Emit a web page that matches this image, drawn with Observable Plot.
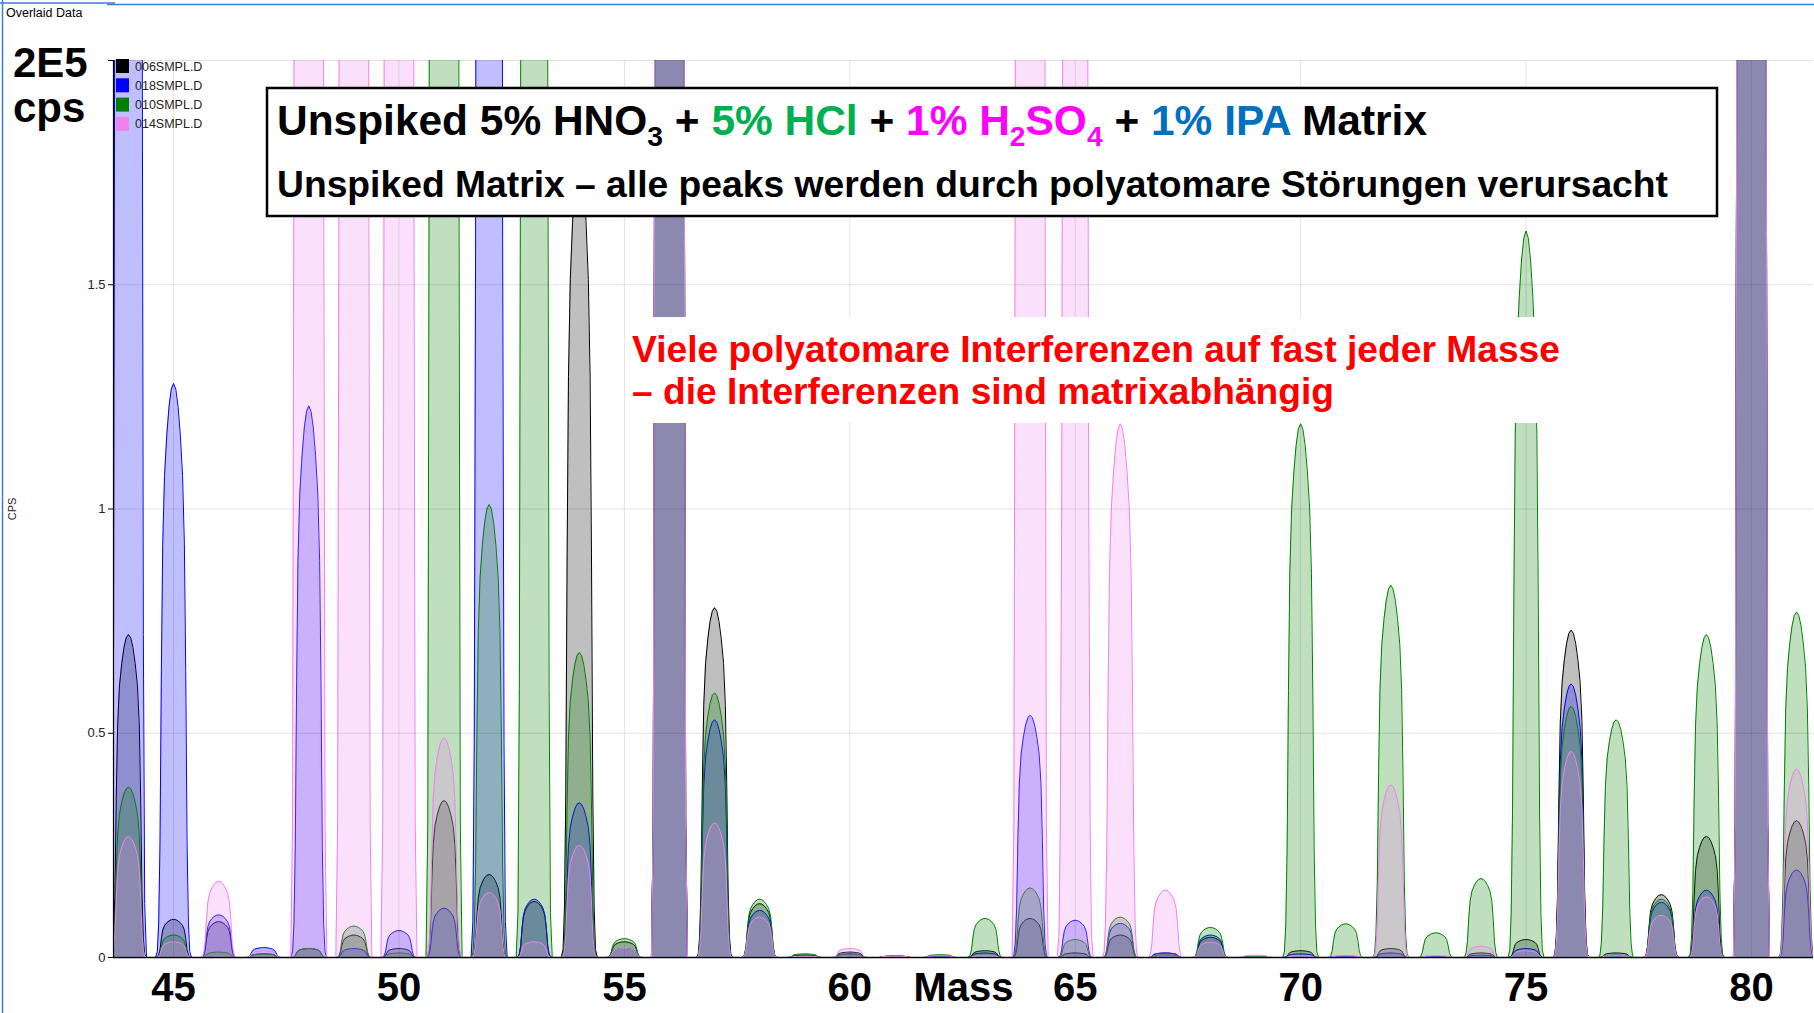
<!DOCTYPE html>
<html>
<head>
<meta charset="utf-8">
<script src="https://cdn.jsdelivr.net/npm/d3@7"></script>
<script src="https://cdn.jsdelivr.net/npm/@observablehq/plot@0.6"></script>
<style>
  html, body { margin: 0; padding: 0; background: #fff; }
  #page { position: relative; width: 1814px; height: 1013px; overflow: hidden; background: #fff;
          font-family: "Liberation Sans", Arial, sans-serif; }
  #page > svg { position: absolute; left: 0; top: 0; }
</style>
</head>
<body>
<div id="page"></div>
<script>
// Nominal masses scanned (amu)
const masses = [44, 45, 46, 47, 48, 49, 50, 51, 52, 53, 54, 55, 56, 57, 58, 59, 60, 61, 62,
                63, 64, 65, 66, 67, 68, 69, 70, 71, 72, 73, 74, 75, 76, 77, 78, 79, 80, 81];

// Peak maxima per mass, in units of 1E5 cps (values above 2 run off the top of the axis)
const counts006 = [0.72, 0.085, 0.08, 0.008, 0.02, 0.05, 0.02, 0.35, 0.185, 0.125, 1.8, 0.035, 30, 0.78, 0.12, 0.005, 0.012, 0.003, 0.003,
                   0.015, 0.087, 0.01, 0.05, 0.01, 0.045, 0.002, 0.015, 0.003, 0.02, 0.002, 0.01, 0.04, 0.73, 0.01, 0.14, 0.27, 30, 0.305];
const counts018 = [12, 1.28, 0.095, 0.022, 1.23, 0.02, 0.06, 0.11, 8, 0.13, 0.345, 0.02, 30, 0.53, 0.105, 0.005, 0.008, 0.003, 0.003,
                   0.01, 0.54, 0.083, 0.076, 0.01, 0.05, 0.002, 0.008, 0.002, 0.01, 0.002, 0.005, 0.02, 0.61, 0.005, 0.123, 0.15, 30, 0.195];
const counts010 = [0.38, 0.05, 0.012, 0.008, 0.02, 0.07, 0.01, 30, 1.01, 10, 0.68, 0.042, 30, 0.59, 0.13, 0.008, 0.008, 0.003, 0.006,
                   0.087, 0.155, 0.04, 0.09, 0.006, 0.067, 0.002, 1.19, 0.075, 0.83, 0.055, 0.176, 1.62, 0.56, 0.53, 0.13, 0.72, 30, 0.77];
const counts014 = [0.27, 0.035, 0.17, 0.015, 30, 30, 30, 0.49, 0.145, 0.035, 0.25, 0.02, 30, 0.30, 0.09, 0.003, 0.02, 0.003, 0.004,
                   0.004, 30, 5, 1.19, 0.15, 0.034, 0.005, 0.004, 0.004, 0.385, 0.004, 0.025, 0.015, 0.46, 0.005, 0.094, 0.135, 30, 0.42];

// Relative peak profile across one mass window (offset in amu, fraction of the maximum)
const peakOffsets = [-0.4, -0.36, -0.33, -0.3, -0.27, -0.24, -0.2, -0.15, -0.1, -0.05, 0,
                     0.05, 0.1, 0.15, 0.2, 0.24, 0.27, 0.3, 0.33, 0.36, 0.4];
const peakShape   = [0, 0.01, 0.06, 0.2, 0.5, 0.72, 0.84, 0.91, 0.96, 0.99, 1,
                     0.99, 0.96, 0.91, 0.84, 0.72, 0.5, 0.2, 0.06, 0.01, 0];

const sampleNames  = ["006SMPL.D", "018SMPL.D", "010SMPL.D", "014SMPL.D"];
const sampleColors = ["#000000", "#0000ff", "#008000", "#ee82ee"];
const sampleCounts = [counts006, counts018, counts010, counts014];

const massTicks = [45, 50, 55, 60, 65, 70, 75, 80];
const cpsTicks  = [0, 0.5, 1, 1.5, 2];
const massWindow = [43.668, 81.376];
const cpsWindow  = [0, 2];

// Expand each sample's peak list into a continuous trace
function trace(counts) {
  const rows = [];
  masses.forEach((m, i) => {
    peakOffsets.forEach((o, j) => rows.push({mass: m + o, cps: counts[i] * peakShape[j]}));
  });
  return rows;
}

const seriesMarks = sampleCounts.flatMap((counts, k) => {
  const rows = trace(counts);
  return [
    Plot.areaY(rows, {x: "mass", y: "cps", fill: sampleColors[k], fillOpacity: 0.25, clip: true}),
    Plot.lineY(rows, {x: "mass", y: "cps", stroke: sampleColors[k], strokeWidth: 1, clip: true})
  ];
});

const chart = Plot.plot({
  width: 1814,
  height: 1013,
  marginLeft: 113,
  marginRight: 1,
  marginTop: 60,
  marginBottom: 56,
  x: {domain: massWindow},
  y: {domain: cpsWindow},
  style: {background: "transparent", fontFamily: "'Liberation Sans', Arial, sans-serif", overflow: "visible"},
  marks: [
    Plot.ruleY([0], {stroke: "#000", strokeWidth: 1.5}),
    ...seriesMarks,
    Plot.gridX({ticks: massTicks, stroke: "#000", strokeOpacity: 0.11}),
    Plot.gridY({ticks: cpsTicks.slice(1), stroke: "#000", strokeOpacity: 0.11}),
    Plot.ruleX([massWindow[0]], {stroke: "#000", strokeWidth: 1.2}),
    Plot.axisY({ticks: cpsTicks, tickFormat: d => (d === 2 ? "" : String(d)), tickSize: 5, tickPadding: 3,
                fontSize: 13, fill: "#222", label: null}),
    Plot.axisY({ticks: [], tickSize: 0, label: "CPS", labelAnchor: "center", labelOffset: 105, labelArrow: "none",
                fontSize: 11, fill: "#222"}),
    Plot.axisX({ticks: massTicks, tickSize: 0, tickPadding: 15, fontSize: 40, fontWeight: "bold", fill: "#000",
                label: "Mass", labelAnchor: "center", labelOffset: 43, labelArrow: "none"})
  ]
});

const page = document.getElementById("page");
page.appendChild(chart);

// Annotation layer: window frame, headings, legend and callouts
const svg = d3.select(page).append("svg")
  .attr("width", 1814).attr("height", 1013)
  .style("font-family", "'Liberation Sans', Arial, sans-serif");

svg.append("line").attr("x1", 2.5).attr("x2", 2.5).attr("y1", 0).attr("y2", 1013)
  .attr("stroke", "#3f7bd6").attr("stroke-width", 1.5);
svg.append("line").attr("x1", 0).attr("x2", 115).attr("y1", 3).attr("y2", 3)
  .attr("stroke", "#3f7bd6").attr("stroke-width", 1.5);
svg.append("line").attr("x1", 107).attr("x2", 1814).attr("y1", 4.5).attr("y2", 4.5)
  .attr("stroke", "#3f7bd6").attr("stroke-width", 1.5);

svg.append("text").attr("x", 6).attr("y", 17).attr("font-size", 12.5).attr("fill", "#000").text("Overlaid Data");

svg.append("text").attr("x", 13).attr("y", 77).attr("font-size", 42).attr("font-weight", "bold").text("2E5");
svg.append("text").attr("x", 13).attr("y", 122).attr("font-size", 42).attr("font-weight", "bold").text("cps");

// Legend
const legend = svg.append("g");
sampleNames.forEach((name, i) => {
  const y = 59 + i * 19.3;
  legend.append("rect").attr("x", 116).attr("y", y).attr("width", 13).attr("height", 14).attr("fill", sampleColors[i]);
  legend.append("text").attr("x", 135).attr("y", y + 11.5).attr("font-size", 12.5).attr("fill", "#222").text(name);
});

// Title box
svg.append("rect").attr("x", 267).attr("y", 88).attr("width", 1450).attr("height", 128)
  .attr("fill", "#fff").attr("stroke", "#000").attr("stroke-width", 2.5);

const titleParts = [
  {t: "Unspiked 5% HNO", c: "#000"}, {t: "3", c: "#000", sub: true}, {t: " + ", c: "#000"},
  {t: "5% HCl", c: "#00b050"}, {t: " + ", c: "#000"},
  {t: "1% H", c: "#ff00ff"}, {t: "2", c: "#ff00ff", sub: true}, {t: "SO", c: "#ff00ff"}, {t: "4", c: "#ff00ff", sub: true},
  {t: " + ", c: "#000"}, {t: "1% IPA", c: "#0070c0"}, {t: " Matrix", c: "#000"}
];
const t1 = svg.append("text").attr("x", 277).attr("y", 135).attr("font-size", 42).attr("font-weight", "bold")
  .attr("textLength", 1150).attr("lengthAdjust", "spacingAndGlyphs");
let shifted = false;
titleParts.forEach(p => {
  const ts = t1.append("tspan").attr("fill", p.c).text(p.t);
  if (p.sub) { ts.attr("font-size", 28).attr("dy", shifted ? 0 : 11); shifted = true; }
  else if (shifted) { ts.attr("dy", -11); shifted = false; }
});
svg.append("text").attr("x", 277).attr("y", 197).attr("font-size", 37).attr("font-weight", "bold")
  .attr("textLength", 1391).attr("lengthAdjust", "spacingAndGlyphs")
  .text("Unspiked Matrix \u2013 alle peaks werden durch polyatomare St\u00f6rungen verursacht");

// Callout
svg.append("rect").attr("x", 625).attr("y", 317).attr("width", 937).attr("height", 106).attr("fill", "#fff");
svg.append("text").attr("x", 632).attr("y", 362).attr("font-size", 37).attr("font-weight", "bold").attr("fill", "#ff0000")
  .attr("textLength", 928).attr("lengthAdjust", "spacingAndGlyphs")
  .text("Viele polyatomare Interferenzen auf fast jeder Masse");
svg.append("text").attr("x", 632).attr("y", 404).attr("font-size", 37).attr("font-weight", "bold").attr("fill", "#ff0000")
  .attr("textLength", 702).attr("lengthAdjust", "spacingAndGlyphs")
  .text("\u2013 die Interferenzen sind matrixabh\u00e4ngig");
</script>
</body>
</html>
